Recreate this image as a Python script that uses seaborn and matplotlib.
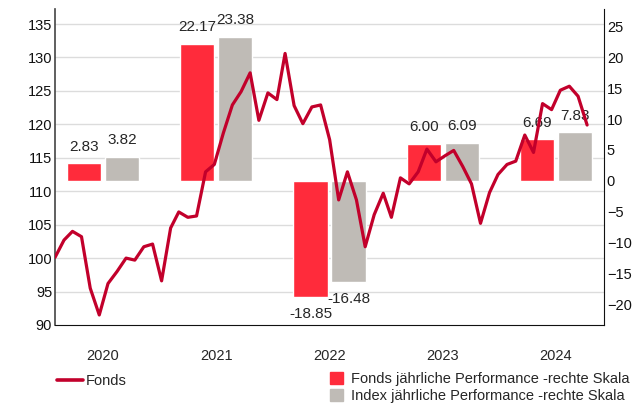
import pandas as pd
import numpy as np
import matplotlib
matplotlib.use('Agg')
import matplotlib.pyplot as plt
import matplotlib.transforms as mtransforms
from matplotlib.lines import Line2D
from matplotlib.patches import Patch
import seaborn as sns

# Yearly performance (right scale)
years = ['2020', '2021', '2022', '2023', '2024']
fonds_perf = [2.83, 22.17, -18.85, 6.00, 6.69]
index_perf = [3.82, 23.38, -16.48, 6.09, 7.83]

# Monthly fund value (left scale), end of Dec 2019 = 100
fonds_line = [100.1, 102.7, 104.0, 103.2, 95.5, 91.5, 96.2, 98.0, 100.0, 99.7,
              101.7, 102.1, 96.6, 104.5, 106.9, 106.1, 106.3, 112.9, 114.0, 118.7,
              122.9, 124.9, 127.7, 120.6, 124.7, 123.7, 130.6, 122.8, 120.1, 122.6,
              122.9, 117.7, 108.7, 112.9, 108.7, 101.7, 106.5, 109.7, 106.1, 112.0,
              111.1, 112.9, 116.3, 114.4, 115.3, 116.1, 113.7, 111.1, 105.2, 109.8,
              112.5, 114.0, 114.5, 118.4, 115.8, 123.1, 122.2, 125.1, 125.7, 124.2,
              119.9]
months = pd.date_range('2019-12-31', periods=len(fonds_line), freq='ME')

red_bar = '#FF2B3B'
gray_bar = '#BFBBB6'
line_col = '#C2002B'

sns.set_style('white')
plt.rcParams['font.family'] = ['Liberation Sans', 'DejaVu Sans']

bars = pd.DataFrame({
    'year': years * 2,
    'series': ['Fonds'] * len(years) + ['Index'] * len(years),
    'value': fonds_perf + index_perf,
})
line_df = pd.DataFrame({'date': months, 'value': fonds_line})

fig = plt.figure(figsize=(6.42, 4.05), dpi=100)
rect = [55 / 642, 1 - 325 / 405, 549 / 642, 315.7 / 405]
ax = fig.add_axes(rect)          # bars, right scale
ax2 = fig.add_axes(rect)         # line, left scale (drawn on top)
ax2.patch.set_visible(False)

sns.barplot(data=bars, x='year', y='value', hue='series',
            palette={'Fonds': red_bar, 'Index': gray_bar}, saturation=1,
            width=0.67, gap=0.1, legend=False, ax=ax, zorder=2)
for c in ax.containers:
    ax.bar_label(c, fmt='%.2f', padding=7, fontsize=11)

ax.set_xlim(-0.425, 4.425)
ax.set_ylim(-23.4, 27.8)
ax.set_yticks(np.arange(-20, 26, 5))
ax.yaxis.tick_right()
ax.tick_params(axis='y', length=0, pad=2, labelsize=10.5, colors='#111111')
ax.tick_params(axis='x', length=0, pad=17, labelsize=10.5)
ax.set_xlabel('')
ax.set_ylabel('')
ax.spines['top'].set_visible(False)
ax.spines['left'].set_color('#444444')
ax.spines['left'].set_linewidth(1.2)
ax.spines['right'].set_color('#111111')
ax.spines['bottom'].set_color('#111111')

sns.lineplot(data=line_df, x='date', y='value', color=line_col,
             linewidth=2.3, ax=ax2)
ax2.set_xlim(months[0], months[-1] + pd.Timedelta(days=58))
ax2.set_ylim(90, 137.2)
left_ticks = np.arange(90, 136, 5)
ax2.set_yticks(left_ticks)
ax2.set_xticks([])
ax2.tick_params(axis='y', length=0, pad=2, labelsize=10.5, colors='#111111')
ax2.set_xlabel('')
ax2.set_ylabel('')
for s in ax2.spines.values():
    s.set_visible(False)

# gridlines follow the left scale but sit behind the bars
trans = mtransforms.blended_transform_factory(ax.transAxes, ax2.transData)
for v in left_ticks[1:]:
    ax.plot([0, 1], [v, v], transform=trans, color='#DCDCDC', lw=1, zorder=0.5)

fig.legend(handles=[Line2D([], [], color=line_col, lw=2.6)], labels=['Fonds'],
           loc='center left', bbox_to_anchor=(57 / 642, 1 - 381 / 405),
           frameon=False, fontsize=10.5, handlelength=1.8, handletextpad=0.15,
           borderpad=0, borderaxespad=0)
fig.legend(handles=[Patch(color=red_bar), Patch(color=gray_bar)],
           labels=['Fonds jährliche Performance -rechte Skala',
                   'Index jährliche Performance -rechte Skala'],
           loc='upper left', bbox_to_anchor=(330 / 642, 1 - 372 / 405),
           frameon=False, fontsize=10.5, handlelength=0.86, handleheight=0.86,
           handletextpad=0.6, labelspacing=0.22, borderpad=0, borderaxespad=0)

fig.savefig('out.png', dpi=100)
